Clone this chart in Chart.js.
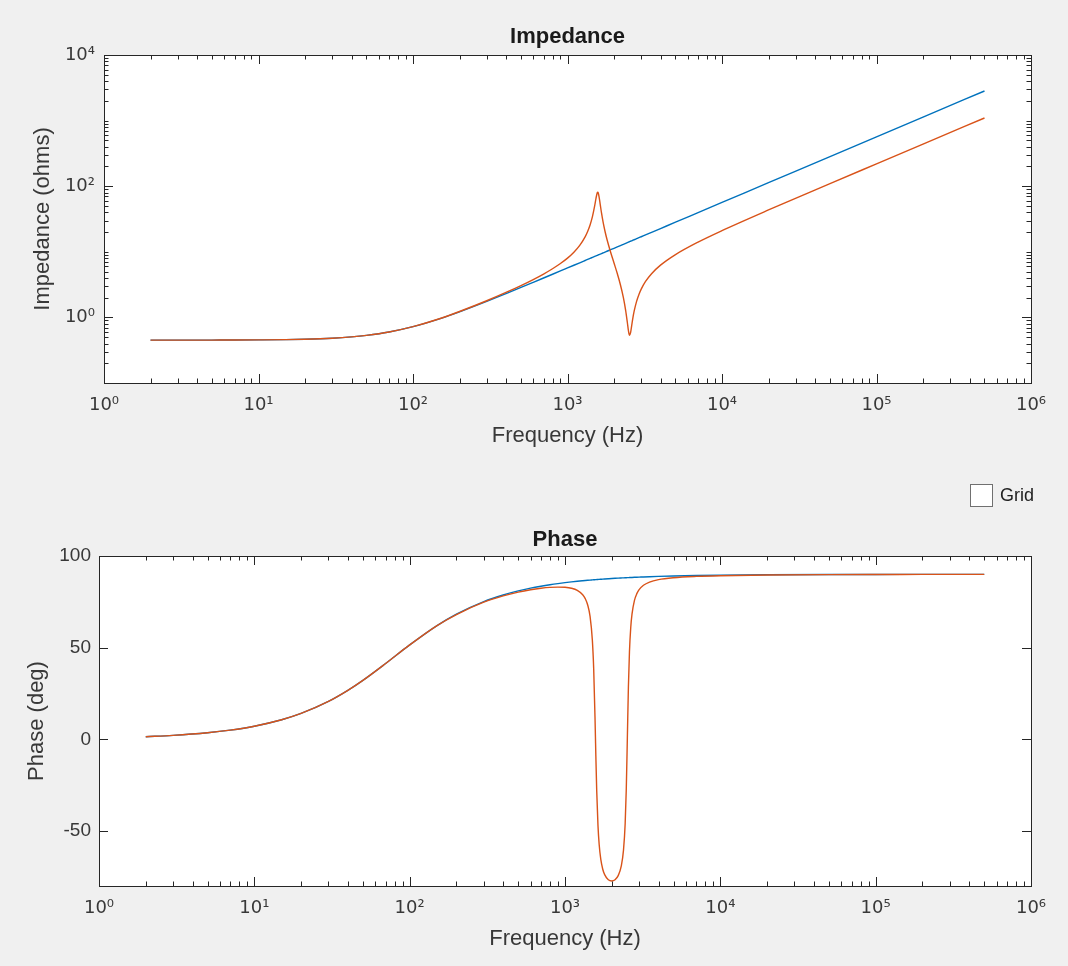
<!DOCTYPE html>
<html>
<head>
<meta charset="utf-8">
<title>Impedance / Phase</title>
<script src="https://cdn.jsdelivr.net/npm/chart.js@4.4.1/dist/chart.umd.min.js"></script>
<style>
  html, body { margin: 0; padding: 0; background: #f0f0f0; }
  body { width: 1068px; height: 966px; position: relative; overflow: hidden;
         font-family: "Liberation Sans", Arial, sans-serif; }
  canvas { position: absolute; left: 0; }
  #magChart { top: 0; }
  #phaseChart { top: 460px; }
  #gridToggle { position: absolute; left: 970px; top: 484px; height: 23px;
                display: flex; align-items: center; font-size: 18px; color: #222; }
  #gridToggle .box { width: 21px; height: 21px; border: 1px solid #707070;
                     background: #fff; margin-right: 7px; }
</style>
</head>
<body>
<canvas id="magChart" width="1068" height="452"></canvas>
<canvas id="phaseChart" width="1068" height="494"></canvas>
<div id="gridToggle"><span class="box"></span><span>Grid</span></div>
<script>
// sweep frequencies (Hz)
const freqHz = [2, 3, 5, 7, 10, 15, 20, 30, 40, 50, 70, 100, 150, 200, 300, 400, 500, 600, 700, 800,
  900, 1000, 1100, 1200, 1300, 1350, 1400, 1450, 1500, 1530, 1560, 1570, 1580, 1600, 1630, 1660,
  1700, 1750, 1800, 1900, 2000, 2100, 2200, 2300, 2380, 2440, 2480, 2520, 2560, 2600, 2650, 2700,
  2800, 2900, 3000, 3200, 3500, 4000, 5000, 7000, 10000, 20000, 50000, 100000, 200000, 500000];

// plain coil |Z| (ohms)
const coilMag = [0.450, 0.450, 0.451, 0.452, 0.454, 0.458, 0.464, 0.481, 0.504, 0.532, 0.599, 0.723,
  0.960, 1.217, 1.755, 2.306, 2.863, 3.423, 3.984, 4.546, 5.109, 5.673, 6.237, 6.801, 7.365, 7.647,
  7.930, 8.212, 8.494, 8.664, 8.833, 8.890, 8.946, 9.059, 9.228, 9.398, 9.624, 9.906, 10.189, 10.754,
  11.319, 11.884, 12.449, 13.014, 13.466, 13.805, 14.031, 14.257, 14.484, 14.710, 14.992, 15.275,
  15.840, 16.405, 16.971, 18.101, 19.797, 22.624, 28.278, 39.587, 56.55, 113.1, 282.7, 565.5, 1131, 2827];

// coil with the LC trap |Z| (ohms)
const trapMag = [0.450, 0.450, 0.451, 0.452, 0.454, 0.458, 0.464, 0.481, 0.504, 0.532, 0.599, 0.723,
  0.961, 1.229, 1.795, 2.403, 3.058, 3.777, 4.583, 5.513, 6.625, 8.016, 9.867, 12.54, 16.91, 20.39,
  25.62, 34.29, 50.39, 65.92, 80.23, 81.27, 79.46, 69.58, 51.98, 39.09, 28.31, 20.41, 15.56, 9.943,
  6.752, 4.657, 3.150, 2.003, 1.272, 0.836, 0.626, 0.533, 0.586, 0.738, 0.982, 1.242,
  1.755, 2.239, 2.694, 3.527, 4.637, 6.258, 9.076, 14.07, 21.05, 43.43, 109.5, 219.2, 438.5, 1096];

// phase (deg)
const coilPhase = [1.44, 2.16, 3.60, 5.03, 7.16, 10.67, 14.11, 20.66, 26.69, 32.14, 41.33, 51.49,
  62.05, 68.30, 75.14, 78.75, 80.96, 82.45, 83.51, 84.32, 84.95, 85.45, 85.86, 86.21, 86.50, 86.63,
  86.75, 86.86, 86.96, 87.02, 87.08, 87.10, 87.12, 87.15, 87.20, 87.26, 87.32, 87.40, 87.47, 87.60,
  87.72, 87.83, 87.93, 88.02, 88.09, 88.13, 88.16, 88.19, 88.22, 88.25, 88.28, 88.31,
  88.37, 88.43, 88.48, 88.58, 88.70, 88.86, 89.09, 89.35, 89.54, 89.77, 89.91, 89.95, 89.98, 89.99];

const trapPhase = [1.44, 2.16, 3.60, 5.03, 7.16, 10.67, 14.11, 20.66, 26.69, 32.14, 41.33, 51.49,
  62.05, 68.07, 74.79, 78.25, 80.29, 81.58, 82.39, 82.87, 83.05, 82.93, 82.42, 81.27, 78.88, 76.73,
  73.25, 67.05, 54.09, 38.45, 12.20, 1.52, -9.16, -27.94, -46.79, -57.53, -65.52, -70.85, -73.82, -76.58,
  -77.25, -76.56, -74.33, -69.33, -60.44, -45.88, -27.41, 0.54, 28.84, 47.78, 60.98, 68.29,
  75.77, 79.47, 81.64, 84.06, 85.80, 87.11, 88.14, 88.86, 89.25, 89.64, 89.86, 89.93, 89.96, 89.99];

const freqDecades = [1, 10, 100, 1000, 10000, 100000, 1000000];
const freqTickLabels = ['10⁰', '10¹', '10²', '10³', '10⁴', '10⁵', '10⁶'];
const magTickValues = [1, 100, 10000];
const magTickLabels = ['10⁰', '10²', '10⁴'];
const phaseTickValues = [-50, 0, 50, 100];
const phaseTickLabels = ['-50', '0', '50', '100'];

const FONT = '"Liberation Sans", Arial, sans-serif';
// power-of-ten labels: one family so all superscript digits match
const EXP_FONT = '"DejaVu Sans", sans-serif';
const INK = '#383838';
const BLUE = '#0072BD';
const ORANGE = '#D95319';

// every 1..9 step of each decade, majors kept at the decade marks
function logTicks(lo, hi, majors) {
  const out = [];
  for (let d = lo; d < hi; d *= 10) {
    for (let m = 1; m < 10; m++) {
      const v = +(m * d).toPrecision(3);
      if ((v > lo && v < hi) || majors.includes(v)) out.push({ value: v });
    }
  }
  if (majors.includes(hi)) out.push({ value: hi });
  return out;
}

function pairs(ys) {
  return freqHz.map((f, i) => ({ x: f, y: ys[i] }));
}

// white plot area, box outline and inward tick marks on all four sides
const boxAxes = {
  id: 'boxAxes',
  beforeDraw(chart) {
    const { ctx, chartArea: a } = chart;
    ctx.save();
    ctx.fillStyle = '#ffffff';
    ctx.fillRect(a.left, a.top, a.right - a.left, a.bottom - a.top);
    ctx.restore();
  },
  afterDraw(chart) {
    const { ctx, chartArea: a, scales } = chart;
    const xs = scales.x, ys = scales.y;
    ctx.save();
    ctx.strokeStyle = '#262626';
    ctx.lineWidth = 1;
    ctx.beginPath();
    xs.ticks.forEach(t => {
      const px = Math.round(xs.getPixelForValue(t.value)) + 0.5;
      if (px < a.left + 1 || px > a.right - 1) return;
      const len = t.label ? 9 : 4.5;
      ctx.moveTo(px, a.bottom); ctx.lineTo(px, a.bottom - len);
      ctx.moveTo(px, a.top); ctx.lineTo(px, a.top + len);
    });
    ys.ticks.forEach(t => {
      const py = Math.round(ys.getPixelForValue(t.value)) + 0.5;
      if (py < a.top + 1 || py > a.bottom - 1) return;
      const len = t.label ? 9 : 4.5;
      ctx.moveTo(a.left, py); ctx.lineTo(a.left + len, py);
      ctx.moveTo(a.right, py); ctx.lineTo(a.right - len, py);
    });
    ctx.stroke();
    ctx.strokeRect(Math.round(a.left) + 0.5, Math.round(a.top) + 0.5,
      Math.round(a.right - a.left), Math.round(a.bottom - a.top));
    ctx.restore();
  }
};

function freqAxis(height, titleBottom) {
  return {
    type: 'logarithmic',
    min: 1,
    max: 1000000,
    afterBuildTicks: s => { s.ticks = logTicks(1, 1000000, freqDecades); },
    afterFit: s => { s.height = height; },
    grid: { display: false, drawTicks: false },
    border: { display: false },
    ticks: {
      autoSkip: false, maxRotation: 0, padding: 12, color: INK,
      font: { family: EXP_FONT, size: 18 },
      callback: v => {
        const i = freqDecades.indexOf(v);
        return i >= 0 ? freqTickLabels[i] : '';
      }
    },
    title: {
      display: true, text: 'Frequency (Hz)', color: INK,
      font: { family: FONT, size: 22 },
      padding: { top: 0, bottom: titleBottom }
    }
  };
}

// order 1 puts the trap curve over the plain coil
function lineSet(label, ys, color, order) {
  return {
    label: label,
    data: pairs(ys),
    order: order,
    borderColor: color,
    borderWidth: 1.4,
    pointRadius: 0,
    fill: false,
    cubicInterpolationMode: 'monotone'
  };
}

function titleOpts(text, top, bottom) {
  return {
    display: true, text: text, fullSize: false, color: '#1a1a1a',
    font: { family: FONT, size: 22, weight: 'bold' },
    padding: { top: top, bottom: bottom }
  };
}

new Chart(document.getElementById('magChart'), {
  type: 'line',
  data: {
    datasets: [
      lineSet('Coil', coilMag, BLUE, 2),
      lineSet('Coil + trap', trapMag, ORANGE, 1)
    ]
  },
  options: {
    responsive: false,
    animation: false,
    layout: { padding: { left: 0, right: 37, top: 0, bottom: 0 } },
    scales: {
      x: freqAxis(69, 2.8),
      y: {
        type: 'logarithmic',
        min: 0.1,
        max: 10000,
        afterBuildTicks: s => { s.ticks = logTicks(0.1, 10000, magTickValues); },
        afterFit: s => { s.width = 104; },
        grid: { display: false, drawTicks: false },
        border: { display: false },
        ticks: {
          autoSkip: false, padding: 9, color: INK,
          font: { family: EXP_FONT, size: 18 },
          callback: v => {
            const i = magTickValues.indexOf(v);
            return i >= 0 ? magTickLabels[i] : '';
          }
        },
        title: {
          display: true, text: 'Impedance (ohms)', color: INK,
          font: { family: FONT, size: 22 },
          padding: { top: 30, bottom: 0 }
        }
      }
    },
    plugins: {
      legend: { display: false },
      tooltip: { enabled: false },
      title: titleOpts('Impedance', 23.4, 5.2)
    }
  },
  plugins: [boxAxes]
});

new Chart(document.getElementById('phaseChart'), {
  type: 'line',
  data: {
    datasets: [
      lineSet('Coil', coilPhase, BLUE, 2),
      lineSet('Coil + trap', trapPhase, ORANGE, 1)
    ]
  },
  options: {
    responsive: false,
    animation: false,
    layout: { padding: { left: 0, right: 37, top: 0, bottom: 0 } },
    scales: {
      x: freqAxis(68, 1.8),
      y: {
        type: 'linear',
        min: -80,
        max: 100,
        afterBuildTicks: s => { s.ticks = phaseTickValues.map(v => ({ value: v })); },
        afterFit: s => { s.width = 99; },
        grid: { display: false, drawTicks: false },
        border: { display: false },
        ticks: {
          autoSkip: false, padding: 8, color: INK,
          font: { family: FONT, size: 19 },
          callback: v => {
            const i = phaseTickValues.indexOf(v);
            return i >= 0 ? phaseTickLabels[i] : '';
          }
        },
        title: {
          display: true, text: 'Phase (deg)', color: INK,
          font: { family: FONT, size: 22 },
          padding: { top: 24, bottom: 0 }
        }
      }
    },
    plugins: {
      legend: { display: false },
      tooltip: { enabled: false },
      title: titleOpts('Phase', 66.6, 3.0)
    }
  },
  plugins: [boxAxes]
});
</script>
</body>
</html>
